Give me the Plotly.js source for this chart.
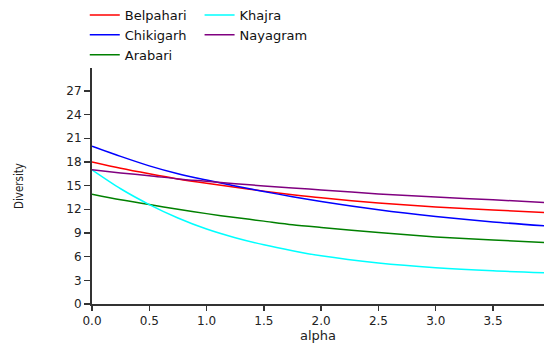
<!DOCTYPE html>
<html>
<head>
<meta charset="utf-8">
<script src="https://cdn.plot.ly/plotly-3.0.1.min.js"></script>
<style>html,body{margin:0;padding:0;background:#fff;}#chart{width:544px;height:343px;}</style>
</head>
<body>
<div id="chart"></div>
<script>
// alpha values (x axis)
const alpha = [0, 0.25, 0.5, 0.75, 1.0, 1.25, 1.5, 1.75, 2.0, 2.5, 3.0, 3.5, 3.95];
// Diversity profiles per site
const belpahari = [18.0, 17.2, 16.5, 15.85, 15.3, 14.8, 14.3, 13.85, 13.45, 12.8, 12.3, 11.9, 11.6];
const chikigarh = [20.0, 18.7, 17.5, 16.5, 15.7, 14.95, 14.25, 13.6, 13.0, 11.95, 11.1, 10.4, 9.9];
const arabari   = [13.9, 13.2, 12.6, 12.0, 11.45, 10.95, 10.5, 10.05, 9.7, 9.05, 8.5, 8.1, 7.8];
const khajra    = [17.0, 14.6, 12.6, 10.9, 9.5, 8.4, 7.5, 6.75, 6.1, 5.2, 4.6, 4.2, 3.95];
const nayagram  = [17.0, 16.6, 16.25, 15.85, 15.55, 15.25, 14.95, 14.7, 14.45, 13.95, 13.55, 13.2, 12.85];

const names  = ['Belpahari', 'Chikigarh', 'Arabari', 'Khajra', 'Nayagram'];
const series = [belpahari, chikigarh, arabari, khajra, nayagram];
const colors = ['#ff0000', '#0000ff', '#008000', '#00ffff', '#800080'];
const legendFor = ['legend', 'legend', 'legend', 'legend2', 'legend2'];

const traces = series.map((ys, i) => ({
  x: alpha, y: ys, name: names[i], type: 'scatter', mode: 'lines',
  line: {color: colors[i], width: 1.5, shape: 'spline', smoothing: 0.8},
  legend: legendFor[i]
}));

const font = {family: 'DejaVu Sans, Arial, sans-serif', size: 12, color: '#222'};
const layout = {
  width: 544, height: 343,
  margin: {l: 92, r: 0, t: 68, b: 39},
  paper_bgcolor: '#fff', plot_bgcolor: '#fff',
  font: font,
  showlegend: true,
  legend: {x: -0.016, y: 1.29, xanchor: 'left', yanchor: 'top', bgcolor: 'rgba(0,0,0,0)',
           font: {family: 'DejaVu Sans, Arial, sans-serif', size: 13, color: '#111'}, tracegroupgap: 0},
  legend2: {x: 0.238, y: 1.29, xanchor: 'left', yanchor: 'top', bgcolor: 'rgba(0,0,0,0)',
           font: {family: 'DejaVu Sans, Arial, sans-serif', size: 13, color: '#111'}, tracegroupgap: 0},
  xaxis: {
    range: [0, 3.945], dtick: 0.5, tick0: 0, tickformat: '.1f',
    showgrid: false, zeroline: false, showline: true, linecolor: '#333', linewidth: 2,
    ticks: 'outside', ticklen: 5, tickwidth: 1.5, tickcolor: '#333',
    tickfont: {family: 'DejaVu Sans, Arial, sans-serif', size: 12, color: '#222'},
    title: {text: 'alpha', standoff: 6, font: {family: 'DejaVu Sans, Arial, sans-serif', size: 13, color: '#222'}}
  },
  yaxis: {
    range: [0, 29.9], dtick: 3, tick0: 0,
    showgrid: false, zeroline: false, showline: true, linecolor: '#333', linewidth: 2,
    ticks: 'outside', ticklen: 6, tickwidth: 1.5, tickcolor: '#333',
    tickfont: {family: 'DejaVu Sans, Arial, sans-serif', size: 12, color: '#222'},
    title: {text: 'Diversity', standoff: 40, font: {family: '"DejaVu Sans Condensed", "Liberation Sans Narrow", sans-serif', size: 11.5, color: '#222'}}
  }
};

Plotly.newPlot('chart', traces, layout, {displayModeBar: false, staticPlot: true});
</script>
</body>
</html>
